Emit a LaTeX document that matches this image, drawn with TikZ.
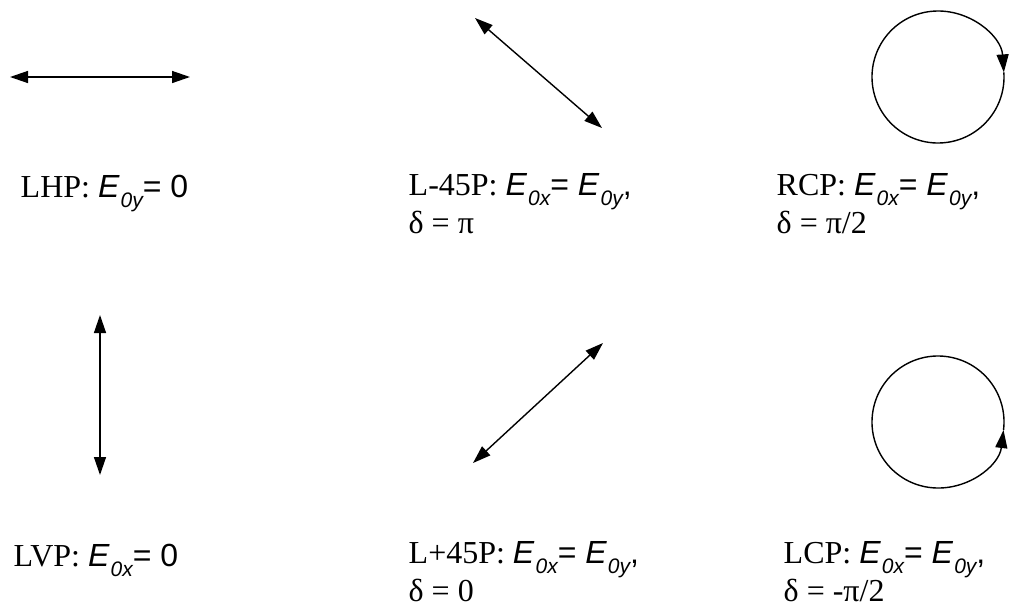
\documentclass[tikz,border=0pt]{standalone}
\usepackage{fontspec}
\setmainfont{Liberation Serif}
\setsansfont{Liberation Sans}
\usetikzlibrary{arrows.meta}

% field amplitude with sans italic subscript
\newcommand{\Efield}[1]{{\sffamily\itshape E\kern0.04em\raisebox{-0.32em}{\fontsize{21}{21}\selectfont 0#1}}}

\begin{document}
\begin{tikzpicture}[x=1pt, y=-1pt, line width=1.4pt,
    >={Triangle[length=18pt,width=12pt]},
    lbl/.style={anchor=base west, inner sep=0pt, align=left, text depth=0pt,
      font=\fontsize{32}{36}\selectfont}]

    \useasboundingbox (0,0) rectangle (1009,606);

    % --- Linear horizontal ---
    \coordinate (lhpL) at (10,77);
    \coordinate (lhpR) at (190,77);
    \draw[<->] (lhpL) -- (lhpR);
    \node[lbl] (lhp) at (20,197) {LHP: \Efield{y}{\sffamily= 0}};

    % --- Linear -45 ---
    % two-line labels sit on the baseline of their last line
    \coordinate (lmA) at (475,18);
    \coordinate (lmB) at (602,128);
    \draw[<->] (lmA) -- (lmB);
    \node[lbl] (lm) at (408,233) {L-45P: \Efield{x}{\sffamily= }\Efield{y}{\sffamily,}\\δ = π};

    % --- Right circular ---
    % clockwise on the page, tip on the right side
    \coordinate (rcpC) at (938,77);
    \draw[->] ([shift={(-4:66)}]rcpC) arc[start angle=-4, end angle=356, radius=66];
    \node[lbl] (rcp) at (776,233) {RCP: \Efield{x}{\sffamily= }\Efield{y}{\sffamily,}\\δ = π/2};

    % --- Linear vertical ---
    \coordinate (lvpT) at (100,315);
    \coordinate (lvpB) at (100,475);
    \draw[<->] (lvpT) -- (lvpB);
    \node[lbl] (lvp) at (13,566) {LVP: \Efield{x}{\sffamily= 0}};

    % --- Linear +45 ---
    \coordinate (lpA) at (473,463);
    \coordinate (lpB) at (603,343);
    \draw[<->] (lpA) -- (lpB);
    \node[lbl] (lp) at (408,601) {L+45P: \Efield{x}{\sffamily= }\Efield{y}{\sffamily,}\\δ = 0};

    % --- Left circular ---
    % counterclockwise on the page
    \coordinate (lcpC) at (938,422);
    \draw[->] ([shift={(367:66)}]lcpC) arc[start angle=367, end angle=7, radius=66];
    \node[lbl] (lcp) at (783,601) {LCP: \Efield{x}{\sffamily= }\Efield{y}{\sffamily,}\\δ = -π/2};

\end{tikzpicture}
\end{document}
